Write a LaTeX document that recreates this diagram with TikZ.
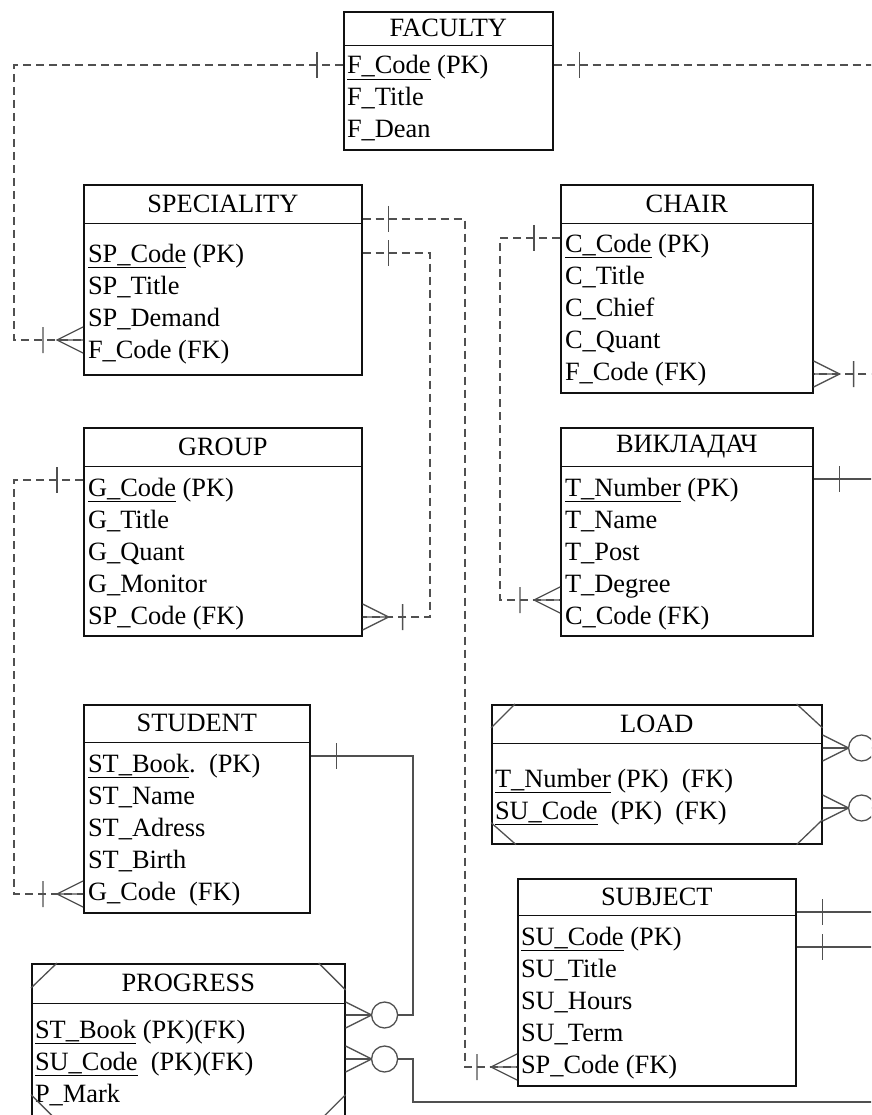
\documentclass[tikz,border=0pt]{standalone}
\usepackage{fontspec}
\setmainfont{Liberation Serif}
\usetikzlibrary{positioning,calc}
\definecolor{ink}{HTML}{111111}
\definecolor{wire}{HTML}{505050}

\begin{document}
\begin{tikzpicture}[
  x=1pt,y=-1pt,
  every node/.style={font=\fontsize{26.4}{32}\selectfont},
  entity/.style={draw=ink,line width=1.6pt,anchor=north west,inner sep=0pt},
  title/.style={anchor=north,inner sep=0pt,minimum height=39pt},
  attr/.style={anchor=north west,inner sep=0pt,outer sep=0pt,minimum height=32pt,text height=21pt,text depth=3pt},
  sep/.style={draw=ink,line width=1.6pt},
  rel/.style={line width=1.3pt,color=wire},
  dashrel/.style={rel,dash pattern=on 8pt off 5pt},
  one/.pic={\draw[rel] (26,-13) -- (26,13);},
  many/.pic={\draw[rel] (0,-13) -- (26,0) -- (0,13) (0,0) -- (26,0) (40,-13) -- (40,13);},
  zeromany/.pic={\draw[rel] (0,-13) -- (26,0) -- (0,13) (0,0) -- (26,0);
    \draw[rel,fill=white] (39,0) circle (13pt);}
]
\useasboundingbox (0,0) rectangle (871,1115);
\clip (0,0) rectangle (871,1115);

% entities
\node[entity,minimum width=209pt,minimum height=138pt] (fac) at (343,11) {};
\node[title,minimum height=34pt] (facT) at (fac.north) {FACULTY};
\draw[sep] (fac.west |- facT.south) -- (fac.east |- facT.south);
\node[attr] (fac1) at (347,49) {\underline{F\_Code} (PK)};
\node[attr] (fac2) at (fac1.south west) {F\_Title};
\node[attr] (fac3) at (fac2.south west) {F\_Dean};

\node[entity,minimum width=278pt,minimum height=190pt] (spe) at (83,184) {};
\node[title] (speT) at (spe.north) {SPECIALITY};
\draw[sep] (spe.west |- speT.south) -- (spe.east |- speT.south);
\node[attr] (spe1) at (88,237) {\underline{SP\_Code} (PK)};
\node[attr] (spe2) at (spe1.south west) {SP\_Title};
\node[attr] (spe3) at (spe2.south west) {SP\_Demand};
\node[attr] (spe4) at (spe3.south west) {F\_Code (FK)};

\node[entity,minimum width=252pt,minimum height=208pt] (cha) at (560,184) {};
\node[title] (chaT) at (cha.north) {CHAIR};
\draw[sep] (cha.west |- chaT.south) -- (cha.east |- chaT.south);
\node[attr] (cha1) at (565,227) {\underline{C\_Code} (PK)};
\node[attr] (cha2) at (cha1.south west) {C\_Title};
\node[attr] (cha3) at (cha2.south west) {C\_Chief};
\node[attr] (cha4) at (cha3.south west) {C\_Quant};
\node[attr] (cha5) at (cha4.south west) {F\_Code (FK)};

\node[entity,minimum width=278pt,minimum height=208pt] (grp) at (83,427) {};
\node[title] (grpT) at (grp.north) {GROUP};
\draw[sep] (grp.west |- grpT.south) -- (grp.east |- grpT.south);
\node[attr] (grp1) at (88,471) {\underline{G\_Code} (PK)};
\node[attr] (grp2) at (grp1.south west) {G\_Title};
\node[attr] (grp3) at (grp2.south west) {G\_Quant};
\node[attr] (grp4) at (grp3.south west) {G\_Monitor};
\node[attr] (grp5) at (grp4.south west) {SP\_Code (FK)};

\node[entity,minimum width=252pt,minimum height=208pt] (tch) at (560,427) {};
\node[title] (tchT) at (tch.north) {ВИКЛАДАЧ};
\draw[sep] (tch.west |- tchT.south) -- (tch.east |- tchT.south);
\node[attr] (tch1) at (565,471) {\underline{T\_Number} (PK)};
\node[attr] (tch2) at (tch1.south west) {T\_Name};
\node[attr] (tch3) at (tch2.south west) {T\_Post};
\node[attr] (tch4) at (tch3.south west) {T\_Degree};
\node[attr] (tch5) at (tch4.south west) {C\_Code (FK)};

\node[entity,minimum width=226pt,minimum height=208pt] (stu) at (83,704) {};
\node[title,minimum height=38pt] (stuT) at (stu.north) {STUDENT};
\draw[sep] (stu.west |- stuT.south) -- (stu.east |- stuT.south);
\node[attr] (stu1) at (88,747) {\underline{ST\_Book}.\ \ (PK)};
\node[attr] (stu2) at (stu1.south west) {ST\_Name};
\node[attr] (stu3) at (stu2.south west) {ST\_Adress};
\node[attr] (stu4) at (stu3.south west) {ST\_Birth};
\node[attr] (stu5) at (stu4.south west) {G\_Code\ \ (FK)};

\node[entity,minimum width=330pt,minimum height=139pt] (lod) at (491,704) {};
\node[title] (lodT) at (lod.north) {LOAD};
\draw[sep] (lod.west |- lodT.south) -- (lod.east |- lodT.south);
\node[attr] (lod1) at (495,762) {\underline{T\_Number} (PK)\ \ (FK)};
\node[attr] (lod2) at (lod1.south west) {\underline{SU\_Code}\ \ (PK)\ \ (FK)};
\draw[rel] (lod.north west) ++(0,24) -- ++(24,-24);
\draw[rel] (lod.north east) ++(-26,0) -- ++(26,24);
\draw[rel] (lod.south west) ++(0,-22) -- ++(25,22);
\draw[rel] (lod.south east) ++(-26,0) -- ++(26,-25);

\node[entity,minimum width=278pt,minimum height=207pt] (sub) at (517,878) {};
\node[title,minimum height=37pt] (subT) at (sub.north) {SUBJECT};
\draw[sep] (sub.west |- subT.south) -- (sub.east |- subT.south);
\node[attr] (sub1) at (521,920) {\underline{SU\_Code} (PK)};
\node[attr] (sub2) at (sub1.south west) {SU\_Title};
\node[attr] (sub3) at (sub2.south west) {SU\_Hours};
\node[attr] (sub4) at (sub3.south west) {SU\_Term};
\node[attr] (sub5) at (sub4.south west) {SP\_Code (FK)};

\node[entity,minimum width=313pt,minimum height=156pt] (prg) at (31,963) {};
\node[title,minimum height=40pt] (prgT) at (prg.north) {PROGRESS};
\draw[sep] (prg.west |- prgT.south) -- (prg.east |- prgT.south);
\node[attr] (prg1) at (35,1013) {\underline{ST\_Book} (PK)(FK)};
\node[attr] (prg2) at (prg1.south west) {\underline{SU\_Code}\ \ (PK)(FK)};
\node[attr] (prg3) at (prg2.south west) {P\_Mark};
\draw[rel] (prg.north west) ++(0,25) -- ++(26,-25);
\draw[rel] (prg.north east) ++(-27,0) -- ++(27,27);
\draw[rel] (prg.south west) ++(0,-26) -- ++(26,26);
\draw[rel] (prg.south east) ++(0,-26) -- ++(-26,26);

% rails for the connectors
\coordinate (railA) at (14,0);
\coordinate (railE) at (413,0);
\coordinate (railB) at (430,0);
\coordinate (railC) at (465,0);
\coordinate (railD) at (500,0);
\coordinate (railR) at (900,0);
\coordinate (railF) at (0,1102);

% connector ends
\coordinate (spe-in) at (spe.west |- 0,340);
\coordinate (spe-out) at (spe.east |- 0,219);
\coordinate (cha-in) at (cha.east |- 0,374);
\coordinate (cha-out) at (cha.west |- 0,238);
\coordinate (grp-in) at (grp.east |- 0,617);
\coordinate (grp-out) at (grp.west |- 0,480);
\coordinate (tch-in) at (tch.west |- 0,600);
\coordinate (tch-out) at (tch.east |- 0,479);
\coordinate (stu-in) at (stu.west |- 0,894);
\coordinate (stu-out) at (stu.east |- 0,756);
\coordinate (lod-in1) at (lod.east |- 0,748);
\coordinate (lod-in2) at (lod.east |- 0,808);
\coordinate (sub-in) at (sub.west |- 0,1067);
\coordinate (sub-out1) at (sub.east |- 0,912);
\coordinate (sub-out2) at (sub.east |- 0,947);
\coordinate (prg-in1) at (prg.east |- 0,1015);
\coordinate (prg-in2) at (prg.east |- 0,1059);

% dashed links
\draw[dashrel] (fac.west |- fac1) -| (railA |- spe-in) -- (spe-in);
\draw[dashrel] (fac.east |- fac1) -| (railR |- cha-in) -- (cha-in);
\draw[dashrel] (spe-out) -| (railC |- sub-in) -- (sub-in);
\draw[dashrel] (spe.east |- spe1) -| (railB |- grp-in) -- (grp-in);
\draw[dashrel] (cha-out) -| (railD |- tch-in) -- (tch-in);
\draw[dashrel] (grp-out) -| (railA |- stu-in) -- (stu-in);

% solid links
\draw[rel] (tch-out) -| (railR |- lod-in1) -- (lod-in1);
\draw[rel] (sub-out1) -| (railR |- lod-in2) -- (lod-in2);
\draw[rel] (sub-out2) -| (railR |- railF) -| (railE |- prg-in2) -- (prg-in2);
\draw[rel] (stu-out) -| (railE |- prg-in1) -- (prg-in1);

% cardinality marks
\pic[xscale=-1] at (fac.west |- fac1) {one};
\pic at (fac.east |- fac1) {one};
\pic[xscale=-1] at (spe-in) {many};
\pic at (spe-out) {one};
\pic at (spe.east |- spe1) {one};
\pic at (cha-in) {many};
\pic[xscale=-1] at (cha-out) {one};
\pic at (grp-in) {many};
\pic[xscale=-1] at (grp-out) {one};
\pic[xscale=-1] at (tch-in) {many};
\pic at (tch-out) {one};
\pic[xscale=-1] at (stu-in) {many};
\pic at (stu-out) {one};
\pic at (lod-in1) {zeromany};
\pic at (lod-in2) {zeromany};
\pic[xscale=-1] at (sub-in) {many};
\pic at (sub-out1) {one};
\pic at (sub-out2) {one};
\pic at (prg-in1) {zeromany};
\pic at (prg-in2) {zeromany};
\end{tikzpicture}
\end{document}
